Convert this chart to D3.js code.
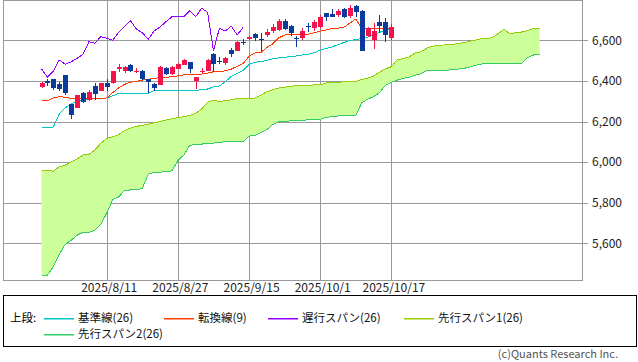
<!DOCTYPE html>
<html>
<head>
<meta charset="utf-8">
<script src="https://cdn.jsdelivr.net/npm/d3@7"></script>
<style>
    body { margin: 0; background: #fff; }
    svg { display: block; font-family: "Noto Sans CJK JP", "Noto Sans", sans-serif; }
</style>
</head>
<body>
<svg id="chart" width="638" height="362"></svg>
<script>
"use strict";

// trading days shown on the chart
let dates = [
    "2025/7/25", "2025/7/28", "2025/7/29", "2025/7/30", "2025/7/31", "2025/8/1",
    "2025/8/4", "2025/8/5", "2025/8/6", "2025/8/7", "2025/8/8", "2025/8/11",
    "2025/8/12", "2025/8/13", "2025/8/14", "2025/8/15", "2025/8/18", "2025/8/19",
    "2025/8/20", "2025/8/21", "2025/8/22", "2025/8/25", "2025/8/26", "2025/8/27",
    "2025/8/28", "2025/8/29", "2025/9/2", "2025/9/3", "2025/9/4", "2025/9/5",
    "2025/9/8", "2025/9/9", "2025/9/10", "2025/9/11", "2025/9/12", "2025/9/15",
    "2025/9/16", "2025/9/17", "2025/9/18", "2025/9/19", "2025/9/22", "2025/9/23",
    "2025/9/24", "2025/9/25", "2025/9/26", "2025/9/29", "2025/9/30", "2025/10/1",
    "2025/10/2", "2025/10/3", "2025/10/6", "2025/10/7", "2025/10/8", "2025/10/9",
    "2025/10/10", "2025/10/13", "2025/10/14", "2025/10/15", "2025/10/16", "2025/10/17"
];

let open = [
    6368, 6399, 6409, 6385, 6429, 6285, 6268, 6339, 6306, 6375,
    6352, 6391, 6388, 6459, 6447, 6478, 6445, 6450, 6409, 6385,
    6380, 6462, 6434, 6459, 6478, 6493, 6401, 6444, 6450, 6532,
    6498, 6487, 6552, 6549, 6593, 6605, 6630, 6605, 6628, 6646,
    6651, 6696, 6672, 6610, 6613, 6670, 6659, 6664, 6733, 6728,
    6725, 6753, 6720, 6769, 6744, 6621, 6601, 6689, 6689, 6613
];
let high = [
    6393, 6409, 6410, 6396, 6431, 6287, 6332, 6347, 6355, 6391,
    6391, 6409, 6451, 6483, 6473, 6483, 6462, 6454, 6410, 6391,
    6473, 6470, 6472, 6487, 6508, 6494, 6418, 6462, 6506, 6539,
    6516, 6519, 6560, 6598, 6605, 6621, 6634, 6634, 6657, 6682,
    6706, 6706, 6675, 6621, 6661, 6687, 6700, 6724, 6736, 6753,
    6753, 6758, 6773, 6774, 6749, 6667, 6687, 6725, 6708, 6680
];
let low = [
    6366, 6375, 6355, 6350, 6330, 6211, 6266, 6290, 6303, 6306,
    6350, 6352, 6386, 6445, 6441, 6442, 6437, 6404, 6339, 6352,
    6378, 6430, 6430, 6457, 6476, 6440, 6359, 6434, 6448, 6442,
    6482, 6478, 6516, 6547, 6577, 6601, 6598, 6549, 6615, 6634,
    6646, 6651, 6623, 6568, 6600, 6642, 6645, 6656, 6696, 6713,
    6716, 6708, 6711, 6716, 6549, 6618, 6556, 6637, 6593, 6601
];
let close = [
    6391, 6388, 6364, 6360, 6339, 6232, 6330, 6297, 6347, 6335,
    6388, 6368, 6450, 6470, 6470, 6450, 6450, 6409, 6396, 6365,
    6467, 6434, 6470, 6483, 6503, 6459, 6418, 6449, 6503, 6482,
    6494, 6511, 6531, 6593, 6585, 6618, 6610, 6600, 6639, 6667,
    6696, 6656, 6637, 6605, 6646, 6666, 6692, 6716, 6716, 6716,
    6746, 6716, 6758, 6738, 6549, 6659, 6646, 6670, 6626, 6664
];

// 転換線(9) / 基準線(26)
let tenkan = [
    6302, 6302, 6316, 6322, 6320, 6314, 6314, 6314, 6314, 6314,
    6314, 6316, 6342, 6365, 6383, 6393, 6398, 6404, 6408, 6412,
    6417, 6418, 6420, 6425, 6430, 6430, 6430, 6434, 6438, 6445,
    6448, 6449, 6458, 6472, 6485, 6522, 6538, 6540, 6565, 6582,
    6612, 6626, 6628, 6628, 6628, 6630, 6638, 6645, 6651, 6658,
    6660, 6664, 6685, 6705, 6660, 6660, 6660, 6660, 6660, 6660
];
let kijun = [
    6169, 6169, 6173, 6237, 6267, 6286, 6301, 6308, 6311, 6312,
    6314, 6316, 6326, 6339, 6339, 6339, 6339, 6339, 6339, 6352,
    6352, 6352, 6352, 6352, 6352, 6352, 6352, 6358, 6360, 6370,
    6375, 6396, 6422, 6436, 6451, 6481, 6492, 6495, 6501, 6509,
    6513, 6516, 6520, 6523, 6528, 6532, 6539, 6551, 6560, 6567,
    6579, 6589, 6599, 6604, 6609, 6615, 6626, 6639, 6651, 6657
];

// 先行スパン1 / 2, they run 25 days past the last candle
let spanA = [
    5961, 5961, 5955, 5978, 5985, 6000, 6015, 6035, 6038, 6060,
    6092, 6117, 6124, 6135, 6156, 6167, 6176, 6181, 6187, 6194,
    6200, 6207, 6213, 6219, 6224, 6230, 6240, 6262, 6295, 6305,
    6298, 6303, 6307, 6313, 6314, 6314, 6315, 6330, 6347, 6357,
    6365, 6369, 6373, 6377, 6378, 6379, 6380, 6381, 6390, 6393,
    6394, 6395, 6396, 6397, 6407, 6414, 6424, 6443, 6460, 6470,
    6505, 6510, 6518, 6538, 6543, 6562, 6571, 6576, 6577, 6579,
    6583, 6588, 6593, 6600, 6607, 6610, 6612, 6633, 6653, 6632,
    6638, 6641, 6648, 6659, 6659
];
let spanB = [
    5443, 5443, 5485, 5545, 5595, 5615, 5640, 5654, 5654, 5664,
    5693, 5748, 5815, 5828, 5860, 5863, 5863, 5870, 5940, 5950,
    5950, 5953, 5957, 6008, 6035, 6082, 6088, 6089, 6090, 6094,
    6097, 6100, 6100, 6100, 6101, 6128, 6131, 6145, 6160, 6185,
    6200, 6201, 6203, 6204, 6206, 6208, 6210, 6211, 6220, 6225,
    6227, 6228, 6228, 6228, 6292, 6310, 6322, 6342, 6378, 6393,
    6404, 6413, 6418, 6427, 6436, 6450, 6451, 6452, 6453, 6454,
    6457, 6461, 6466, 6475, 6483, 6484, 6484, 6485, 6485, 6486,
    6486, 6487, 6515, 6528, 6532
];

let chikouShift = 25;
let dateTicks = ["2025/8/11", "2025/8/27", "2025/9/15", "2025/10/1", "2025/10/17"];
let priceTicks = [5600, 5800, 6000, 6200, 6400, 6600];

let legendTitle = "上段:";
let legendLabels = ["基準線(26)", "転換線(9)", "遅行スパン(26)", "先行スパン1(26)", "先行スパン2(26)"];
let creditText = "(c)Quants Research Inc.";

// styles
let colors = {
    kijun: "#00c8c8",
    tenkan: "#ff3c00",
    chikou: "#9600ff",
    spanA: "#99cc00",
    spanB: "#33cc66",
    cloud: "#ccff99",
    up: "#f5134b",
    down: "#0a3a9c",
    grid: "#999999"
};
let legendColors = [colors.kijun, colors.tenkan, colors.chikou, colors.spanA, colors.spanB];
let legendPos = [[44, 318], [164, 318], [268, 318], [404, 318], [44, 334]];

let svg = d3.select("#chart");
let frame = { left: 3.5, top: 0.5, right: 582.5, bottom: 280.5 };

let x = d3.scaleLinear()
    .domain([0, spanA.length - 1])
    .range([41.5, 539.6]);

let y = d3.scaleLinear()
    .domain([5600, 6600])
    .range([243.3, 40.3]);

drawGrid();
drawCloud();
drawLines();
drawCandles();
drawFrame();
drawLegend();

function drawGrid() {
    let yAxis = d3.axisRight(y)
        .tickValues(priceTicks)
        .tickSize(frame.left - 588)
        .tickPadding(4)
        .tickFormat(d3.format(","));

    let gy = svg.append("g")
        .attr("transform", "translate(588,0)")
        .call(yAxis);

    let xAxis = d3.axisBottom(x)
        .tickValues(dateTicks.map(d => dates.indexOf(d)))
        .tickSize(-(frame.bottom - frame.top))
        .tickPadding(3)
        .tickFormat(i => dates[i]);

    let gx = svg.append("g")
        .attr("transform", "translate(0," + frame.bottom + ")")
        .call(xAxis);

    for (let g of [gx, gy]) {
        g.select(".domain").remove();
        g.selectAll("line")
            .attr("stroke", colors.grid)
            .attr("shape-rendering", "crispEdges");
        g.selectAll("text")
            .attr("fill", "#222")
            .style("font-size", "12px")
            .style("font-family", "\"Noto Sans CJK JP\", sans-serif");
    }
    gx.selectAll("text").attr("dx", 2);
}

function drawCloud() {
    let idx = d3.range(spanA.length);

    let area = d3.area()
        .x(i => x(i))
        .y0(i => y(spanB[i]))
        .y1(i => y(spanA[i]));

    svg.append("path")
        .datum(idx)
        .attr("d", area)
        .attr("fill", colors.cloud);

    let lineA = d3.line().x(i => x(i)).y(i => y(spanA[i]));
    let lineB = d3.line().x(i => x(i)).y(i => y(spanB[i]));

    svg.append("path")
        .datum(idx)
        .attr("d", lineB)
        .attr("fill", "none")
        .attr("stroke", colors.spanB)
        .attr("shape-rendering", "crispEdges");

    svg.append("path")
        .datum(idx)
        .attr("d", lineA)
        .attr("fill", "none")
        .attr("stroke", colors.spanA)
        .attr("shape-rendering", "crispEdges");
}

function drawLines() {
    let chikou = close.slice(chikouShift);

    let series = [
        { values: kijun, color: colors.kijun },
        { values: tenkan, color: colors.tenkan },
        { values: chikou, color: colors.chikou }
    ];

    let line = d3.line()
        .x((d, i) => x(i))
        .y(d => y(d));

    svg.selectAll(".ichimoku-line")
        .data(series)
        .enter().append("path")
        .attr("class", "ichimoku-line")
        .attr("d", d => line(d.values))
        .attr("fill", "none")
        .attr("stroke", d => d.color)
        .attr("shape-rendering", "crispEdges");
}

function drawCandles() {
    let candles = svg.append("g").attr("class", "candles")
        .selectAll("g")
        .data(d3.range(dates.length))
        .enter().append("g");

    let colorOf = i => close[i] >= open[i] ? colors.up : colors.down;

    candles.append("line")
        .attr("x1", i => Math.round(x(i)) + 0.5)
        .attr("x2", i => Math.round(x(i)) + 0.5)
        .attr("y1", i => y(high[i]))
        .attr("y2", i => y(low[i]))
        .attr("stroke", colorOf)
        .attr("shape-rendering", "crispEdges");

    candles.append("rect")
        .attr("x", i => Math.round(x(i)) - 2)
        .attr("width", 5)
        .attr("y", i => y(Math.max(open[i], close[i])))
        .attr("height", i => Math.max(1, Math.abs(y(open[i]) - y(close[i]))))
        .attr("fill", colorOf)
        .attr("shape-rendering", "crispEdges");
}

function drawFrame() {
    svg.append("rect")
        .attr("x", frame.left)
        .attr("y", frame.top)
        .attr("width", frame.right - frame.left)
        .attr("height", frame.bottom - frame.top)
        .attr("fill", "none")
        .attr("stroke", colors.grid)
        .attr("shape-rendering", "crispEdges");
}

function drawLegend() {
    svg.append("rect")
        .attr("x", 3.5)
        .attr("y", 295.5)
        .attr("width", 633)
        .attr("height", 51)
        .attr("fill", "none")
        .attr("stroke", "#000")
        .attr("shape-rendering", "crispEdges");

    svg.append("text")
        .attr("x", 10)
        .attr("y", 318)
        .attr("dy", "0.35em")
        .style("font-size", "11.5px")
        .text(legendTitle);

    let items = svg.selectAll(".legend-item")
        .data(legendLabels)
        .enter().append("g")
        .attr("class", "legend-item")
        .attr("transform", (d, i) => "translate(" + legendPos[i][0] + "," + legendPos[i][1] + ")");

    // colour samples
    items.append("rect")
        .attr("x", 0)
        .attr("y", 0)
        .attr("width", 30)
        .attr("height", 1.5)
        .attr("fill", (d, i) => legendColors[i]);

    items.append("text")
        .attr("x", 34)
        .attr("dy", "0.35em")
        .style("font-size", "11.5px")
        .attr("fill", "#111")
        .text(d => d);

    svg.append("text")
        .attr("x", 618)
        .attr("y", 358)
        .attr("text-anchor", "end")
        .attr("fill", "#555")
        .style("font-size", "11px")
        .text(creditText);
}
</script>
</body>
</html>
